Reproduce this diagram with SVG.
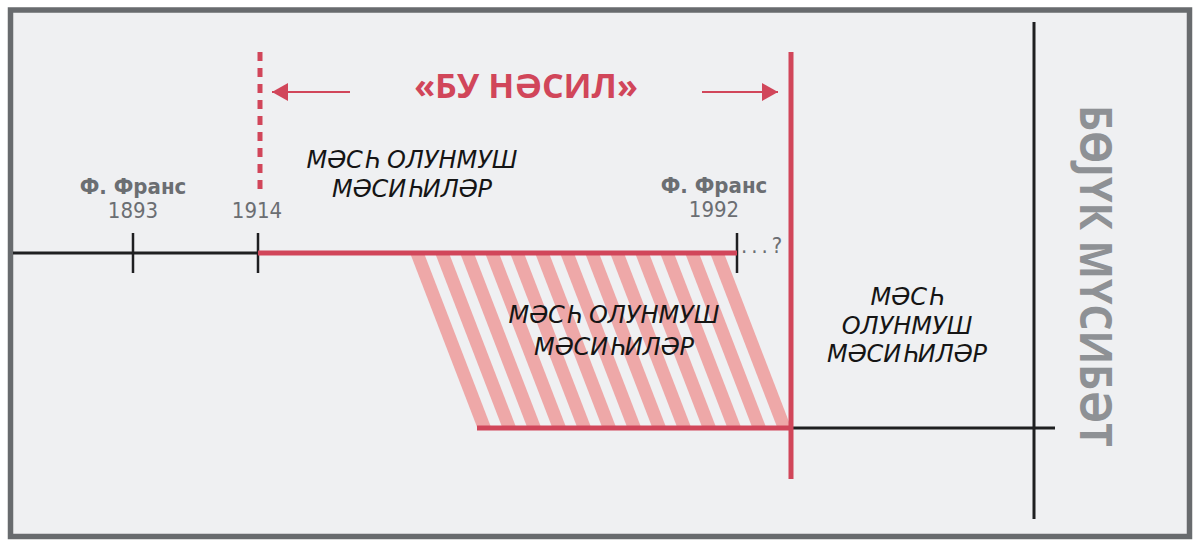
<svg xmlns="http://www.w3.org/2000/svg" width="1200" height="547" viewBox="0 0 1200 547">
<style>
.blk{stroke:#1e1f21;stroke-width:3;fill:none}
.tick{stroke:#1e1f21;stroke-width:2.5;fill:none}
.red{stroke:#d1465a;stroke-width:5;fill:none}
.stripe{stroke:#eea8a8;stroke-width:13;fill:none}
.lab{font-family:"DejaVu Sans Condensed","DejaVu Sans",sans-serif;font-stretch:condensed;fill:#6b6e72;text-anchor:middle}
.name{font-size:22px;font-weight:bold}
.year{font-size:22px}
.it{font-family:"DejaVu Sans",sans-serif;font-style:italic;font-size:24px;fill:#151515;text-anchor:middle}
.title{font-family:"Open Sans","DejaVu Sans",sans-serif;font-weight:bold;font-size:34px;fill:#d1465a;text-anchor:middle}
.vert{font-family:"Open Sans","DejaVu Sans",sans-serif;font-weight:bold;font-size:45px;fill:#8e9195}
</style>
<defs>
<marker id="ah" viewBox="0 0 10 10" refX="10" refY="5" markerWidth="16" markerHeight="18" markerUnits="userSpaceOnUse" orient="auto" preserveAspectRatio="none">
<path d="M0,0 L10,5 L0,10 Z" fill="#d1465a"/>
</marker>
<clipPath id="band"><rect x="0" y="253" width="792" height="175"/></clipPath>
</defs>
<rect x="0" y="0" width="1200" height="547" fill="#ffffff"/>
<rect id="frame" x="10.5" y="10" width="1179" height="526.5" fill="#eff0f2" stroke="#686b6e" stroke-width="5.5"/>

<g id="hatch" clip-path="url(#band)">
<line class="stripe" x1="412" y1="240" x2="489" y2="440"/>
<line class="stripe" x1="437" y1="240" x2="514" y2="440"/>
<line class="stripe" x1="462" y1="240" x2="539" y2="440"/>
<line class="stripe" x1="487" y1="240" x2="564" y2="440"/>
<line class="stripe" x1="512" y1="240" x2="589" y2="440"/>
<line class="stripe" x1="537" y1="240" x2="614" y2="440"/>
<line class="stripe" x1="562" y1="240" x2="639" y2="440"/>
<line class="stripe" x1="587" y1="240" x2="664" y2="440"/>
<line class="stripe" x1="612" y1="240" x2="689" y2="440"/>
<line class="stripe" x1="637" y1="240" x2="714" y2="440"/>
<line class="stripe" x1="662" y1="240" x2="739" y2="440"/>
<line class="stripe" x1="687" y1="240" x2="764" y2="440"/>
<line class="stripe" x1="712" y1="240" x2="789" y2="440"/>
</g>

<g id="connectors">
<line class="blk" x1="13" y1="253" x2="258" y2="253"/>
<line class="tick" x1="133" y1="233" x2="133" y2="273"/>
<line class="tick" x1="258" y1="233" x2="258" y2="273"/>
<line class="tick" x1="737" y1="233" x2="737" y2="273"/>
<line class="red" x1="258" y1="253" x2="737" y2="253"/>
<line class="red" x1="477" y1="428" x2="792" y2="428"/>
<line class="blk" x1="792" y1="428" x2="1055" y2="428"/>
<line class="blk" x1="1034" y1="22" x2="1034" y2="519"/>
<line class="red" x1="791" y1="52" x2="791" y2="479"/>
<line class="red" x1="260" y1="52" x2="260" y2="190" stroke-width="4" stroke-dasharray="9 7"/>
<line stroke="#d1465a" stroke-width="2" x1="350" y1="92" x2="272" y2="92" marker-end="url(#ah)"/>
<line stroke="#d1465a" stroke-width="2" x1="702" y1="92" x2="778" y2="92" marker-end="url(#ah)"/>
</g>

<g id="title"><text class="title" x="526" y="98">«БУ НӘСИЛ»</text></g>

<g id="frans1893">
<text class="lab name" x="133" y="194">Ф. Франс</text>
<text class="lab year" x="133" y="218">1893</text>
</g>
<g id="y1914"><text class="lab year" x="257" y="218">1914</text></g>
<g id="frans1992">
<text class="lab name" x="714" y="193">Ф. Франс</text>
<text class="lab year" x="714" y="217">1992</text>
</g>
<g id="unknown"><text class="lab" style="text-anchor:start;font-size:22px;letter-spacing:4px" x="741" y="253">...?</text></g>

<g id="label-top">
<text class="it" x="412" y="168">МӘСҺ ОЛУНМУШ</text>
<text class="it" x="412" y="197">МӘСИҺИЛӘР</text>
</g>
<g id="label-mid">
<text class="it" x="614" y="323">МӘСҺ ОЛУНМУШ</text>
<text class="it" x="614" y="355">МӘСИҺИЛӘР</text>
</g>
<g id="label-right">
<text class="it" x="907" y="305">МӘСҺ</text>
<text class="it" x="907" y="334">ОЛУНМУШ</text>
<text class="it" x="907" y="362">МӘСИҺИЛӘР</text>
</g>

<g id="vertical-label">
<text class="vert" transform="translate(1080,105) rotate(90)" textLength="342" lengthAdjust="spacingAndGlyphs">БӨЈҮК МҮСИБӘТ</text>
</g>
</svg>
